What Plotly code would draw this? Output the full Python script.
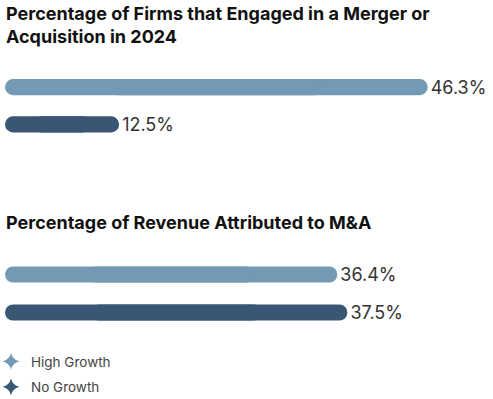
import plotly.graph_objects as go

groups = ["High Growth", "No Growth"]
firms_engaged = [46.3, 12.5]
revenue_share = [36.4, 37.5]
colors = ["#7399B5", "#3A5675"]
title1 = "Percentage of Firms that Engaged in a Merger or<br>Acquisition in 2024"
title2 = "Percentage of Revenue Attributed to M&A"

W, H = 493, 399
FONT = "Inter"

fig = go.Figure()


def py(p):
    return 1 - p / H


def add_pills(values, xa, ya, width):
    # right-rounded segment (carries the value label)
    fig.add_trace(go.Bar(
        x=[v * 0.75 for v in values], base=[v * 0.25 for v in values], y=groups,
        orientation="h", marker=dict(color=colors, cornerradius="50%", line_width=0),
        width=width, text=[f"{v}%" for v in values],
        textposition="outside", cliponaxis=False, constraintext="none",
        textfont=dict(size=18, color="#333333", family=FONT),
        xaxis=xa, yaxis=ya, showlegend=False, hoverinfo="skip"))
    # left-rounded segment
    fig.add_trace(go.Bar(
        x=[-v * 0.75 for v in values], base=[v * 0.75 for v in values], y=groups,
        orientation="h", marker=dict(color=colors, cornerradius="50%", line_width=0),
        width=width, xaxis=xa, yaxis=ya, showlegend=False, hoverinfo="skip"))


add_pills(firms_engaged, "x", "y", 16 / 37)
add_pills(revenue_share, "x2", "y2", 16 / 38)

# legend entries
for g, c in zip(groups, colors):
    fig.add_trace(go.Scatter(
        x=[None], y=[None], mode="markers", name=g, legendgroup=g,
        marker=dict(symbol="star-diamond", size=13, color=c),
        xaxis="x", yaxis="y"))

x0, x1 = 5 / W, (5 + 9.13 * 50) / W

axis_x = dict(range=[0, 50], showgrid=False, zeroline=False, showticklabels=False,
              showline=False, fixedrange=True)
axis_y = dict(showgrid=False, zeroline=False, showticklabels=False, showline=False,
              autorange="reversed", fixedrange=True)

fig.update_layout(
    width=W, height=H,
    margin=dict(l=0, r=0, t=0, b=0, autoexpand=False),
    paper_bgcolor="white", plot_bgcolor="white",
    barmode="overlay",
    xaxis=dict(axis_x, domain=[x0, x1], anchor="y"),
    yaxis=dict(axis_y, domain=[py(124.5 + 18.5), py(87 - 18.5)], anchor="x"),
    xaxis2=dict(axis_x, domain=[x0, x1], anchor="y2"),
    yaxis2=dict(axis_y, domain=[py(312.5 + 19), py(274.5 - 19)], anchor="x2"),
    showlegend=True,
    legend=dict(x=-9 / W, xanchor="left", y=py(346), yanchor="top",
                font=dict(size=13.5, color="#444444", family=FONT),
                traceorder="grouped", tracegroupgap=5,
                itemsizing="constant", bgcolor="rgba(0,0,0,0)"),
    font=dict(family=FONT),
    annotations=[
        dict(text="<b>" + title1 + "</b>", x=4 / W, y=py(1), xref="paper", yref="paper",
             xanchor="left", yanchor="top", align="left", showarrow=False,
             font=dict(size=18, color="#111111", family=FONT)),
        dict(text="<b>" + title2 + "</b>", x=4 / W, y=py(210), xref="paper", yref="paper",
             xanchor="left", yanchor="top", align="left", showarrow=False,
             font=dict(size=18, color="#111111", family=FONT)),
    ],
)

fig.write_html("out.html", config={"displayModeBar": False},
               post_script="document.body.style.margin='0';")
